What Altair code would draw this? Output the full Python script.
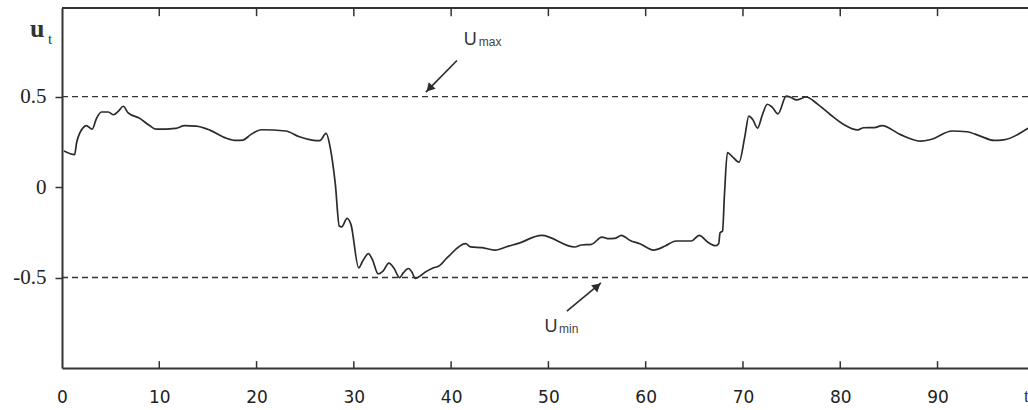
import altair as alt
import pandas as pd

# ---- data ----
t_vals = [0.2, 1.3, 1.5, 2.2, 2.5, 3.1, 3.55, 4.05, 4.75, 5.3, 5.8, 6.3, 6.8, 8.0, 9.0, 9.7,
          11.7, 12.6, 13.8, 15.2, 16.9, 17.9, 18.6, 19.4, 20.5, 23.0, 24.4, 25.7, 26.5, 27.15,
          27.6, 27.8, 28.1, 28.5, 28.75, 29.3, 29.7, 30.5, 30.9, 31.5, 31.9, 32.5, 33.0, 33.6,
          34.1, 34.7, 35.1, 35.6, 36.0, 36.3, 37.4, 38.2, 38.7, 39.6, 41.5, 42.0, 43.2, 44.5,
          45.9, 46.9, 49.3, 52.7, 53.4, 54.4, 55.5, 56.1, 56.8, 57.5, 58.4, 59.4, 60.8, 62.0,
          63.1, 64.7, 65.5, 66.4, 67.2, 67.5, 67.65, 67.9, 68.1, 68.4, 68.95, 69.6, 70.2, 70.6,
          71.0, 71.5, 72.0, 72.5, 73.0, 73.6, 74.45, 74.9, 75.5, 76.5, 77.7, 79.0, 80.4, 81.8,
          82.4, 83.5, 84.3, 86.2, 88.3, 89.3, 91.5, 93.0, 94.4, 95.8, 96.8, 99.3]
u_vals = [0.20, 0.18, 0.245, 0.33, 0.34, 0.32, 0.38, 0.415, 0.415, 0.40, 0.42, 0.447, 0.41, 0.38, 0.34, 0.32,
          0.325, 0.34, 0.337, 0.315, 0.27, 0.258, 0.26, 0.29, 0.317, 0.31, 0.278, 0.26, 0.257, 0.297,
          0.21, 0.144, 0.015, -0.215, -0.22, -0.173, -0.206, -0.446, -0.41, -0.368, -0.40, -0.48, -0.464, -0.42,
          -0.446, -0.50, -0.473, -0.45, -0.473, -0.505, -0.468, -0.446, -0.438, -0.39, -0.313, -0.33, -0.335, -0.348,
          -0.326, -0.311, -0.267, -0.331, -0.32, -0.317, -0.276, -0.285, -0.284, -0.267, -0.295, -0.313, -0.348, -0.326,
          -0.298, -0.298, -0.267, -0.305, -0.324, -0.313, -0.252, -0.243, -0.04, 0.19, 0.166, 0.138, 0.282, 0.392,
          0.374, 0.326, 0.40, 0.458, 0.442, 0.405, 0.503, 0.497, 0.482, 0.498, 0.457, 0.40, 0.345, 0.316,
          0.328, 0.329, 0.34, 0.29, 0.254, 0.263, 0.31, 0.306, 0.282, 0.258, 0.261, 0.325]

x_tick_values = [0, 10, 20, 30, 40, 50, 60, 70, 80, 90]
inner_tick_values = [10, 20, 30, 40, 50, 60, 70, 80, 90]
y_tick_values = [-0.5, 0, 0.5]
limit_levels = [0.5, -0.5]

# annotations (data coordinates)
arrow_t = [40.6, 51.9]
arrow_u = [0.70, -0.685]
arrow_t2 = [37.4, 55.4]
arrow_u2 = [0.525, -0.53]
head_t = [37.76, 55.03]
head_u = [0.545, -0.548]
head_angle = [224, 50]

main_labels = ["U", "U"]
main_t = [41.3, 49.6]
main_u = [0.785, -0.801]
sub_labels = ["max", "min"]
sub_t = [42.85, 51.1]
sub_u = [0.779, -0.807]

X_DOMAIN = [0, 99.3]
Y_DOMAIN = [-1.0, 0.99]
INK = "#2b2b2b"

xs = alt.Scale(domain=X_DOMAIN, nice=False, zero=False)
ys = alt.Scale(domain=Y_DOMAIN, nice=False, zero=False)


def X(field="t:Q"):
    return alt.X(field, scale=xs, title=None)


def Y(field="u:Q"):
    return alt.Y(field, scale=ys, title=None)


curve = pd.DataFrame({"t": t_vals, "u": u_vals})

line = alt.Chart(curve).mark_line(interpolate="monotone", color=INK, strokeWidth=1.7).encode(
    x=alt.X("t:Q", scale=xs, title=None, axis=alt.Axis(
        values=x_tick_values, title=None, ticks=False, tickSize=0, grid=False,
        labelFont="DejaVu Sans", labelFontSize=17, labelColor="#222", labelPadding=21,
        labelFlush=False, domainColor="#333", domainWidth=2)),
    y=alt.Y("u:Q", scale=ys, title=None, axis=alt.Axis(
        values=y_tick_values, title=None, grid=False, tickSize=7, tickWidth=1.5,
        tickColor="#333", labelFont="Liberation Serif", labelFontSize=21, labelColor="#222",
        labelPadding=9, labelExpr="toString(datum.value)", labelFlush=False,
        domainColor="#333", domainWidth=2)),
)

levels = alt.Chart(pd.DataFrame({"u": limit_levels})).mark_rule(
    color="#333", strokeWidth=1.4, strokeDash=[6, 4]).encode(y=Y())

top_border = alt.Chart(pd.DataFrame({"t": [X_DOMAIN[0]], "t2": [X_DOMAIN[1]], "u": [Y_DOMAIN[1]]})).mark_rule(
    color="#333", strokeWidth=2).encode(x=X(), x2="t2:Q", y=Y())

tick_df = pd.DataFrame({"t": inner_tick_values,
                        "top": [Y_DOMAIN[1]] * len(inner_tick_values),
                        "top2": [0.945] * len(inner_tick_values),
                        "bot": [Y_DOMAIN[0]] * len(inner_tick_values),
                        "bot2": [-0.962] * len(inner_tick_values)})
top_ticks = alt.Chart(tick_df).mark_rule(color="#333", strokeWidth=1.5).encode(
    x=X(), y=Y("top:Q"), y2="top2:Q")
bottom_ticks = alt.Chart(tick_df).mark_rule(color="#333", strokeWidth=1.5).encode(
    x=X(), y=Y("bot:Q"), y2="bot2:Q")

arrows_df = pd.DataFrame({"t": arrow_t, "u": arrow_u, "t2": arrow_t2, "u2": arrow_u2})
arrows = alt.Chart(arrows_df).mark_rule(color=INK, strokeWidth=1.6).encode(
    x=X(), x2="t2:Q", y=Y(), y2="u2:Q")

heads_df = pd.DataFrame({"t": head_t, "u": head_u, "a": head_angle})
heads = alt.Chart(heads_df).mark_point(shape="triangle-up", filled=True, color=INK,
                                       size=90, opacity=1).encode(
    x=X(), y=Y(), angle=alt.Angle("a:Q", scale=None))

main_txt = alt.Chart(pd.DataFrame({"t": main_t, "u": main_u, "s": main_labels})).mark_text(
    font="Liberation Sans", fontSize=18, color="#333", align="left", baseline="alphabetic").encode(
    x=X(), y=Y(), text="s:N")
sub_txt = alt.Chart(pd.DataFrame({"t": sub_t, "u": sub_u, "s": sub_labels})).mark_text(
    font="Liberation Sans", fontSize=12, color="#444", align="left", baseline="alphabetic").encode(
    x=X(), y=Y(), text="s:N")

# axis name labels
ylab = alt.Chart(pd.DataFrame({"t": [-3.3], "u": [0.83], "s": ["u"]})).mark_text(
    font="Liberation Serif", fontSize=26, fontWeight="bold", color="#333", align="left",
    baseline="alphabetic").encode(x=X(), y=Y(), text="s:N")
ylab_sub = alt.Chart(pd.DataFrame({"t": [-1.45], "u": [0.79], "s": ["t"]})).mark_text(
    font="Liberation Serif", fontSize=15, color="#333", align="left",
    baseline="alphabetic").encode(x=X(), y=Y(), text="s:N")
xlab = alt.Chart(pd.DataFrame({"t": [98.9], "u": [-1.19], "s": ["t"]})).mark_text(
    font="Liberation Serif", fontSize=18, color="#333", align="left",
    baseline="alphabetic").encode(x=X(), y=Y(), text="s:N")

chart = alt.layer(
    line, levels, top_border, top_ticks, bottom_ticks, arrows, heads,
    main_txt, sub_txt, ylab, ylab_sub, xlab
).properties(
    width=966, height=360,
    padding={"left": 62, "top": 8, "right": 0, "bottom": 42},
    autosize="none", background="white",
).configure_view(stroke=None)

chart.save("out.html", embed_options={"renderer": "svg", "actions": False})
